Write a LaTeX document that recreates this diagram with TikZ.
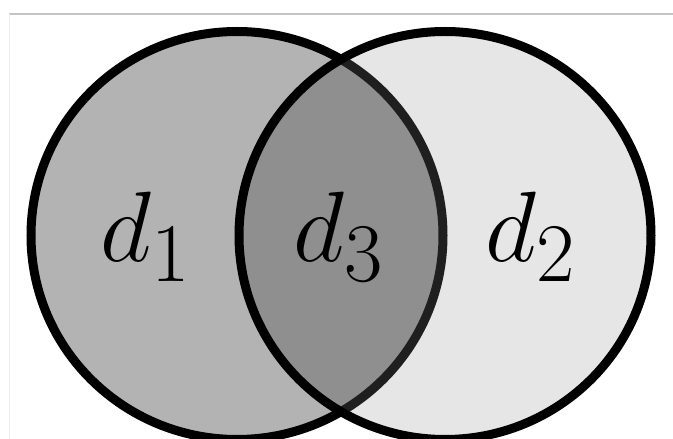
\documentclass[tikz,border=0pt]{standalone}
\definecolor{leftfill}{HTML}{B3B3B3}
\definecolor{rightfill}{HTML}{E3E3E3}
\definecolor{lensfill}{HTML}{808080}
\definecolor{rulegray}{HTML}{C4C4C4}
\definecolor{edgegray}{HTML}{EEEEEE}
\begin{document}
\begin{tikzpicture}[x=1pt,y=1pt,
  ring/.style={draw=black, line width=9pt},
  setlabel/.style={anchor=base, inner sep=0pt, font=\Huge, scale=4.02}]
\useasboundingbox (0,0) rectangle (673,439);
\clip (0,0) rectangle (673,439);
% frame edges
\draw[rulegray, line width=1.2pt] (9,425) -- (673,425);
\draw[edgegray, line width=0.8pt] (9,425) -- (9,0);
% set centres
\coordinate (L) at (237,203.5);
\coordinate (R) at (445,203.5);
% fills
\fill[leftfill] (L) ellipse [x radius=206pt, y radius=204pt];
\fill[rightfill] (R) ellipse [x radius=206pt, y radius=204pt];
\begin{scope}
  \clip (L) ellipse [x radius=206pt, y radius=204pt];
  \fill[lensfill] (R) ellipse [x radius=206pt, y radius=204pt];
\end{scope}
% left outline, then a light veil of the right set over it
\draw[ring] (L) ellipse [x radius=206pt, y radius=204pt];
\fill[white, fill opacity=0.12] (R) ellipse [x radius=206pt, y radius=204pt];
\draw[ring] (R) ellipse [x radius=206pt, y radius=204pt];
% labels
\node[setlabel] (d1) at (146,177) {$d_1$};
\node[setlabel] (d3) at (339,177) {$d_3$};
\node[setlabel] (d2) at (531,177) {$d_2$};
\end{tikzpicture}
\end{document}
